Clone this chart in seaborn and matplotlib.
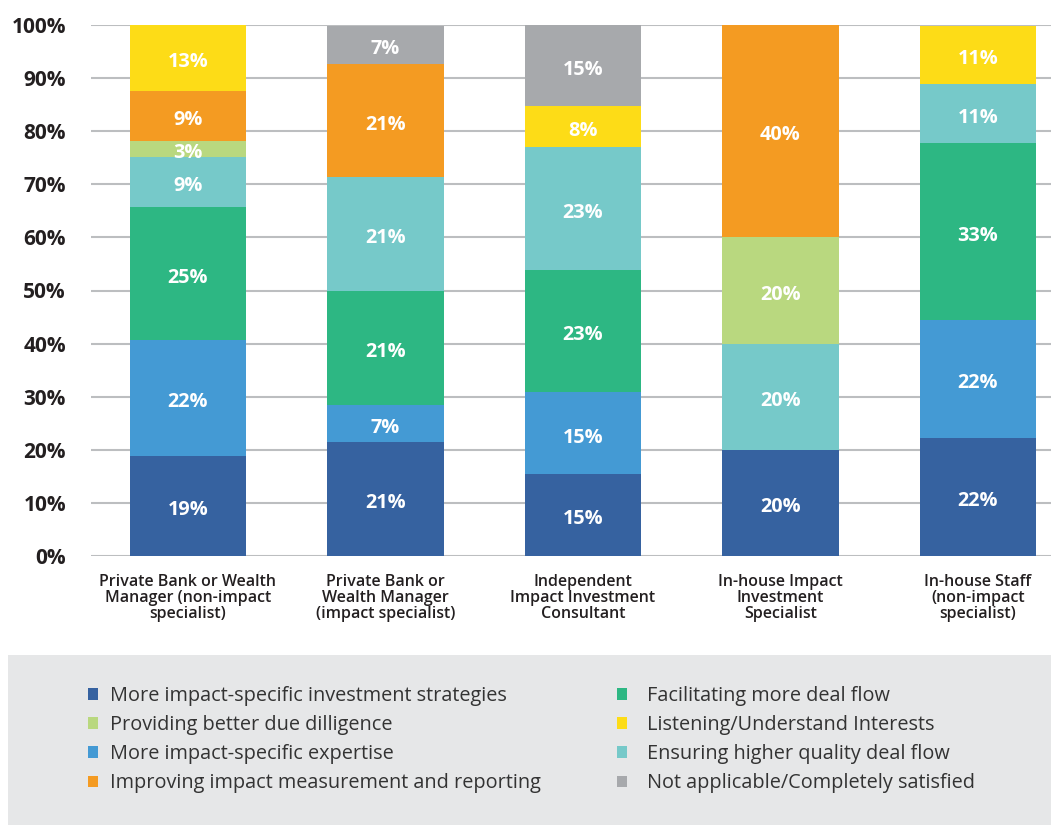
import matplotlib
matplotlib.use("Agg")
import matplotlib.pyplot as plt
import seaborn as sns
import numpy as np
import pandas as pd
from matplotlib.patches import Rectangle, Patch

categories = [
    "Private Bank or Wealth\nManager (non-impact\nspecialist)",
    "Private Bank or\nWealth Manager\n(impact specialist)",
    "Independent\nImpact Investment\nConsultant",
    "In-house Impact\nInvestment\nSpecialist",
    "In-house Staff\n(non-impact\nspecialist)",
]
series_names = [
    "More impact-specific investment strategies",
    "More impact-specific expertise",
    "Facilitating more deal flow",
    "Ensuring higher quality deal flow",
    "Providing better due dilligence",
    "Improving impact measurement and reporting",
    "Listening/Understand Interests",
    "Not applicable/Completely satisfied",
]
strategies    = [18.8, 21.4, 15.4, 20.0, 22.2]
expertise     = [21.9, 7.1, 15.4, 0.0, 22.2]
deal_flow     = [25.0, 21.4, 23.1, 0.0, 33.3]
quality       = [9.4, 21.4, 23.1, 20.0, 11.1]
due_diligence = [3.1, 0.0, 0.0, 20.0, 0.0]
measurement   = [9.4, 21.4, 0.0, 40.0, 0.0]
listening     = [12.6, 0.0, 7.7, 0.0, 11.1]
not_applic    = [0.0, 7.1, 15.4, 0.0, 0.0]
series_values = [strategies, expertise, deal_flow, quality,
                 due_diligence, measurement, listening, not_applic]
colors = ["#3662a0", "#449ad4", "#2db783", "#76c9c9",
          "#b9d87f", "#f49b22", "#fddc17", "#a7a9ac"]
yticks = [0, 10, 20, 30, 40, 50, 60, 70, 80, 90, 100]
ytick_labels = [f"{t}%" for t in yticks]

sns.set_theme(style="white")
plt.rcParams["font.family"] = ["Open Sans", "DejaVu Sans"]

W, H = 1051, 825
fig = plt.figure(figsize=(W / 100, H / 100), dpi=100)
ax = fig.add_axes([91 / W, 1 - 556 / H, 1 - 91 / W, (556 - 25) / H])

cum = np.zeros(len(categories))
handles = {}
for name, vals, col in zip(series_names, series_values, colors):
    vals = np.array(vals, dtype=float)
    df = pd.DataFrame({"cat": categories, "val": vals})
    sns.barplot(data=df, x="cat", y="val", order=categories, bottom=cum,
                color=col, width=0.59, ax=ax, linewidth=0, zorder=3,
                saturation=1, errorbar=None)
    for i, v in enumerate(vals):
        if v > 0:
            ax.text(i, cum[i] + v / 2 - 0.8, f"{int(np.floor(v + 0.5))}%",
                    ha="center", va="center", color="white", fontsize=14.3,
                    fontweight="bold", zorder=5)
    handles[name] = Patch(facecolor=col, edgecolor="none")
    cum = cum + vals

ax.set_ylim(0, 100)
ax.set_xlim(-0.49, 4.37)
ax.set_yticks(yticks)
ax.set_yticklabels(ytick_labels, fontsize=15, fontweight="bold", color="#231f20")
ax.tick_params(axis="y", length=0, pad=18)
ax.tick_params(axis="x", length=0, pad=13)
ax.set_xticks(range(len(categories)))
ax.set_xticklabels(categories, fontsize=11.5, fontweight="semibold",
                   color="#231f20", linespacing=1.0)
ax.set_xlabel("")
ax.set_ylabel("")
for t in yticks:
    ax.axhline(t, color="#bcbec0", lw=1.5, zorder=1)
for s in ax.spines.values():
    s.set_visible(False)

# legend background
fig.patches.append(Rectangle((8 / W, 0), 1 - 8 / W, (825 - 655) / H,
                             transform=fig.transFigure, facecolor="#e6e7e8",
                             edgecolor="none", zorder=0))

left_names = [series_names[0], series_names[4], series_names[1], series_names[5]]
right_names = [series_names[2], series_names[6], series_names[3], series_names[7]]
common = dict(frameon=False, fontsize=14.3, handlelength=0.52, handleheight=0.52,
              labelspacing=0.46, labelcolor="#333333", borderpad=0,
              borderaxespad=0, loc="upper left")
fig.legend([handles[n] for n in left_names], left_names,
           bbox_to_anchor=(88 / W, 1 - 686 / H), handletextpad=0.6, **common)
fig.legend([handles[n] for n in right_names], right_names,
           bbox_to_anchor=(617 / W, 1 - 686 / H), handletextpad=1.0, **common)

fig.savefig("out.png", dpi=100)
